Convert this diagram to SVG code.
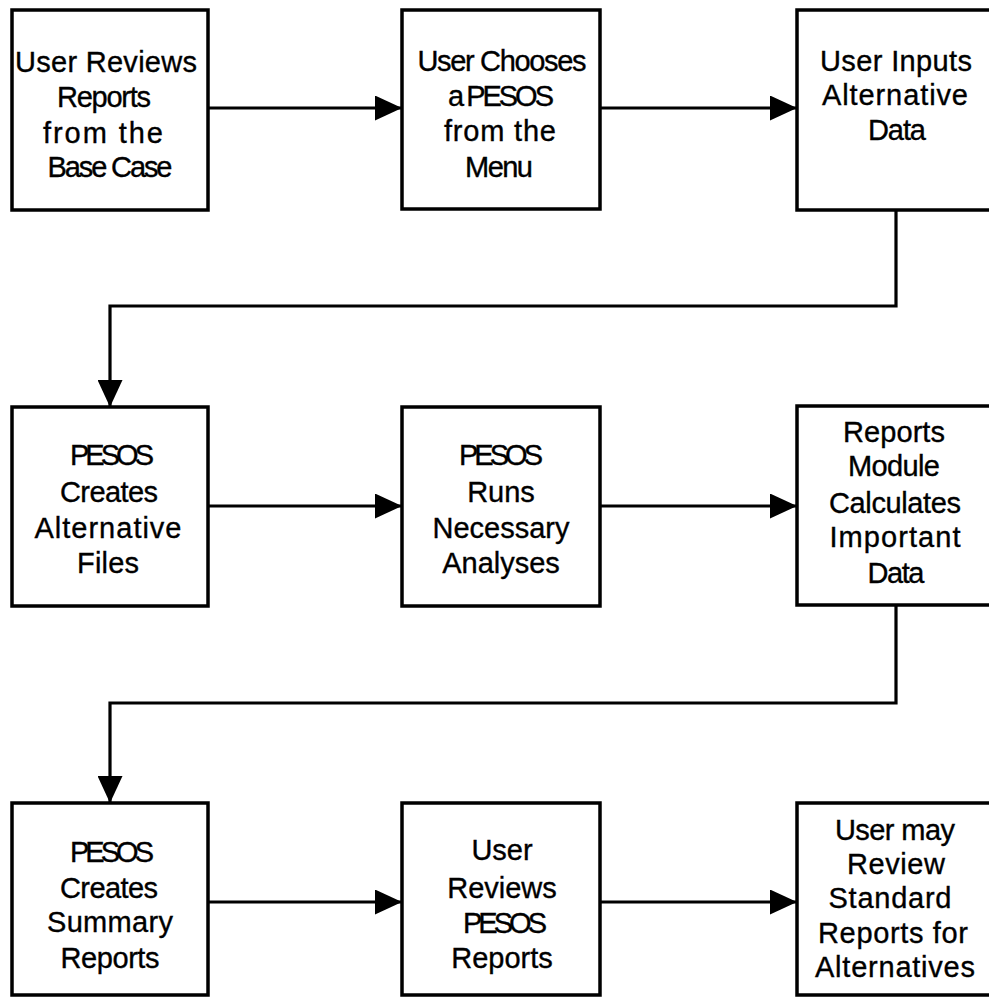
<svg xmlns="http://www.w3.org/2000/svg" width="989" height="997" viewBox="0 0 989 997">
<defs>
<marker id="ah" markerUnits="userSpaceOnUse" markerWidth="27" markerHeight="25" viewBox="0 0 27 25" refX="26" refY="12.5" orient="auto">
<path d="M0,0 L27,12.5 L0,25 Z" fill="#000"/>
</marker>
<style>
.box{fill:#fff;stroke:#000;stroke-width:3.5}
.lbl{font-family:"Liberation Sans",Arial,Helvetica,sans-serif;font-size:29px;fill:#000;stroke:#000;stroke-width:0.35;text-anchor:middle}
.con{fill:none;stroke:#000;stroke-width:3.2}
</style>
</defs>
<rect width="989" height="997" fill="#fff"/>
<g id="connectors">
<path class="con" d="M208,108 H401" marker-end="url(#ah)"/>
<path class="con" d="M600,108 H796" marker-end="url(#ah)"/>
<path class="con" d="M896,210 V306 H110 V406" marker-end="url(#ah)"/>
<path class="con" d="M208,506 H401" marker-end="url(#ah)"/>
<path class="con" d="M600,506 H796" marker-end="url(#ah)"/>
<path class="con" d="M896,605 V703 H110 V802" marker-end="url(#ah)"/>
<path class="con" d="M208,902 H401" marker-end="url(#ah)"/>
<path class="con" d="M600,902 H796" marker-end="url(#ah)"/>
</g>
<g id="n1">
<rect class="box" x="12" y="10" width="196" height="200"/>
<text class="lbl" x="106" y="72" textLength="182">User Reviews</text>
<text class="lbl" x="104" y="107" textLength="94">Reports</text>
<text class="lbl" x="103" y="143" textLength="120">from the</text>
<text class="lbl" x="110" y="177" textLength="125">Base Case</text>
</g>
<g id="n2">
<rect class="box" x="402" y="10" width="198" height="199"/>
<text class="lbl" x="502" y="71" textLength="169">User Chooses</text>
<text class="lbl" x="501" y="106" textLength="106">a PESOS</text>
<text class="lbl" x="500" y="141" textLength="112">from the</text>
<text class="lbl" x="499" y="177" textLength="68">Menu</text>
</g>
<g id="n3">
<rect class="box" x="797" y="10" width="200" height="200"/>
<text class="lbl" x="896" y="71" textLength="152">User Inputs</text>
<text class="lbl" x="895" y="105" textLength="146">Alternative</text>
<text class="lbl" x="897" y="140" textLength="58">Data</text>
</g>
<g id="n4">
<rect class="box" x="12" y="407" width="196" height="199"/>
<text class="lbl" x="112" y="465" textLength="84">PESOS</text>
<text class="lbl" x="109" y="502" textLength="98">Creates</text>
<text class="lbl" x="108" y="538" textLength="147">Alternative</text>
<text class="lbl" x="108" y="573" textLength="62">Files</text>
</g>
<g id="n5">
<rect class="box" x="402" y="407" width="198" height="199"/>
<text class="lbl" x="501" y="465" textLength="84">PESOS</text>
<text class="lbl" x="501" y="502">Runs</text>
<text class="lbl" x="501" y="538">Necessary</text>
<text class="lbl" x="501" y="573">Analyses</text>
</g>
<g id="n6">
<rect class="box" x="797" y="406" width="200" height="199"/>
<text class="lbl" x="894" y="442" textLength="102">Reports</text>
<text class="lbl" x="894" y="476" textLength="92">Module</text>
<text class="lbl" x="895" y="513" textLength="132">Calculates</text>
<text class="lbl" x="895" y="547" textLength="131">Important</text>
<text class="lbl" x="896" y="583" textLength="57">Data</text>
</g>
<g id="n7">
<rect class="box" x="12" y="803" width="196" height="192"/>
<text class="lbl" x="112" y="862" textLength="84">PESOS</text>
<text class="lbl" x="109" y="898" textLength="98">Creates</text>
<text class="lbl" x="110" y="932" textLength="126">Summary</text>
<text class="lbl" x="110" y="968" textLength="99">Reports</text>
</g>
<g id="n8">
<rect class="box" x="402" y="803" width="198" height="192"/>
<text class="lbl" x="502" y="860">User</text>
<text class="lbl" x="502" y="898">Reviews</text>
<text class="lbl" x="505" y="933" textLength="84">PESOS</text>
<text class="lbl" x="502" y="968">Reports</text>
</g>
<g id="n9">
<rect class="box" x="797" y="803" width="200" height="192"/>
<text class="lbl" x="895" y="840" textLength="120">User may</text>
<text class="lbl" x="896" y="874" textLength="98">Review</text>
<text class="lbl" x="890" y="908" textLength="123">Standard</text>
<text class="lbl" x="893" y="943" textLength="150">Reports for</text>
<text class="lbl" x="895" y="977" textLength="160">Alternatives</text>
</g>
</svg>
